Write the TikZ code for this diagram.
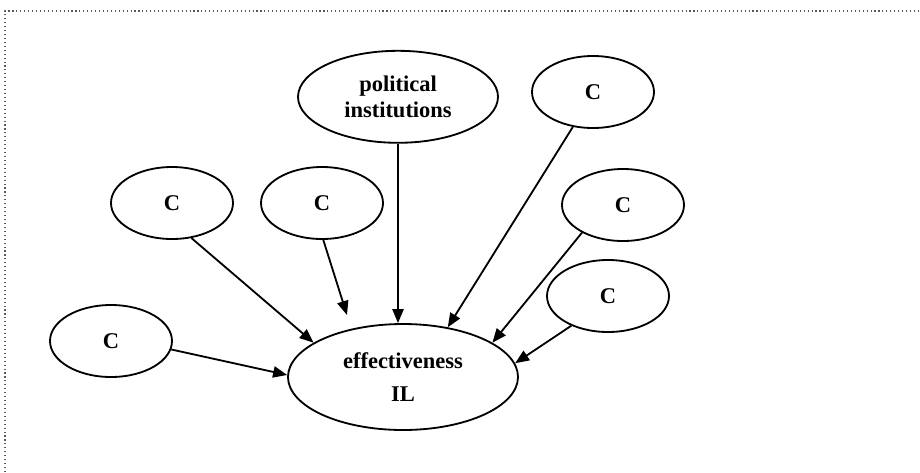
\documentclass[tikz,border=0pt]{standalone}
\usepackage{fontspec}
\setmainfont{Liberation Serif}
\usetikzlibrary{shapes.geometric,arrows.meta}

\begin{document}
\begin{tikzpicture}[font=\fontsize{16}{19}\selectfont\bfseries, line width=1.3pt, line join=round, >={Triangle[length=10pt,width=8pt]},
	oval/.style={draw,ellipse,inner sep=0pt,minimum width=3.05cm,minimum height=1.8cm}]
	\useasboundingbox (0,0) rectangle (23,-11.8);
	\draw[black!65,dotted,line width=0.8pt] (0.125,-11.8)--(0.125,-0.275)--(23,-0.275);
	% centre and causes
	\node[oval,minimum width=5.75cm,minimum height=2.65cm,align=center] (eff) at (10.075,-9.425) {effectiveness\\[4pt]IL};
	\node[oval,minimum width=5cm,minimum height=2.3cm,align=center] (pol) at (9.95,-2.42) {political\\institutions};
	\node[oval] (ctop) at (14.825,-2.3) {C};
	\node[oval] (cleft) at (4.3,-5.075) {C};
	\node[oval] (cmid) at (8.05,-5.075) {C};
	\node[oval] (cright) at (15.575,-5.125) {C};
	\node[oval] (clow) at (15.2,-7.4) {C};
	\node[oval] (cfar) at (2.775,-8.525) {C};
	\coordinate (midend) at (8.675,-7.875);
	% arrows
	\draw[->] (cfar.-8) -- (eff.179);
	\draw[->] (cleft.-61) -- (eff.159);
	\draw[->] (cmid.-88) -- (midend);
	\draw[->] (pol.south) -- (pol.south |- eff.north);
	\draw[->] (ctop.-120) -- (eff.48);
	\draw[->] (cright.-146) -- (eff.21);
	\draw[->] (clow.-141) -- (eff.7);
\end{tikzpicture}
\end{document}
